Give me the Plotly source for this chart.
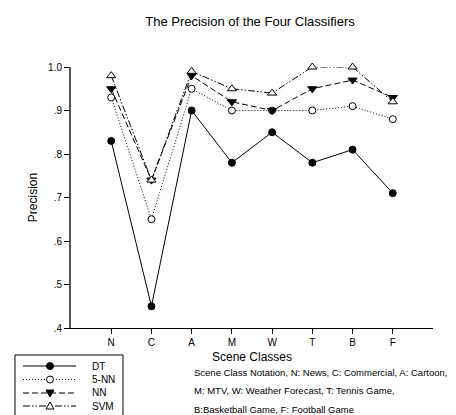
import plotly.graph_objects as go

categories = ["N", "C", "A", "M", "W", "T", "B", "F"]
series_names = ["DT", "5-NN", "NN", "SVM"]
dt = [0.83, 0.45, 0.90, 0.78, 0.85, 0.78, 0.81, 0.71]
knn5 = [0.93, 0.65, 0.95, 0.90, 0.90, 0.90, 0.91, 0.88]
nn = [0.95, 0.74, 0.98, 0.92, 0.90, 0.95, 0.97, 0.93]
svm = [0.98, 0.74, 0.99, 0.95, 0.94, 1.00, 1.00, 0.92]
y_tickvals = [0.4, 0.5, 0.6, 0.7, 0.8, 0.9, 1.0]
y_ticktext = [".4", ".5", ".6", ".7", ".8", ".9", "1.0"]
notes = [
    "Scene Class Notation, N: News, C: Commercial, A: Cartoon,",
    "M: MTV, W: Weather Forecast, T: Tennis Game,",
    "B:Basketball Game, F: Football Game",
]

FONT = "Arial, Liberation Sans, sans-serif"
xs = list(range(len(categories)))

# plot area in pixels
L, R, T, B = 63, 425, 59, 320
W, H = 456, 415


def px(x):
    return (x - L) / (R - L)


def py(y):
    return (B - y) / (B - T)


styles = [
    dict(dash="solid", shape="circle", fill="black"),
    dict(dash="1px,2px", shape="circle", fill="white"),
    dict(dash="6px,3px", shape="tri-down", fill="black"),
    dict(dash="7px,2px,1.5px,2px,1.5px,2px", shape="tri-up", fill="white"),
]
values = [dt, knn5, nn, svm]
symbols = {"circle": "circle", "tri-down": "triangle-down", "tri-up": "triangle-up"}

fig = go.Figure()
for name, vals, st in zip(series_names, values, styles):
    fig.add_trace(go.Scatter(
        x=xs, y=vals, name=name, mode="lines+markers", showlegend=False,
        line=dict(color="black", width=1, dash=st["dash"]),
        marker=dict(symbol=symbols[st["shape"]],
                    size=7 if st["shape"] == "circle" else 8,
                    color=st["fill"], line=dict(width=1, color="black"))))

# custom legend (box, sample lines, glyphs, labels)
shapes = [dict(type="rect", xref="paper", yref="paper",
               x0=px(7), x1=px(115), y0=py(347), y1=py(410),
               line=dict(color="black", width=1), fillcolor="white", layer="above")]
annotations = []
rows = [358, 371.5, 385, 398]
for name, st, ry in zip(series_names, styles, rows):
    shapes.append(dict(type="line", xref="paper", yref="paper",
                       x0=px(15), x1=px(68), y0=py(ry), y1=py(ry),
                       line=dict(color="black", width=1, dash=st["dash"]), layer="above"))
    common = dict(xref="paper", yref="paper", xsizemode="pixel", ysizemode="pixel",
                  xanchor=px(42), yanchor=py(ry), layer="above",
                  line=dict(color="black", width=1), fillcolor=st["fill"])
    if st["shape"] == "circle":
        shapes.append(dict(type="circle", x0=-3.5, x1=3.5, y0=-3.5, y1=3.5, **common))
    elif st["shape"] == "tri-down":
        shapes.append(dict(type="path", path="M-4,3 L4,3 L0,-4 Z", **common))
    else:
        shapes.append(dict(type="path", path="M-4,-3 L4,-3 L0,4 Z", **common))
    annotations.append(dict(text=name, xref="paper", yref="paper", x=px(82), y=py(ry),
                            xanchor="left", yanchor="middle", showarrow=False,
                            font=dict(size=10, family=FONT, color="black")))

for i, t in enumerate(notes):
    annotations.append(dict(text=t, xref="paper", yref="paper",
                            x=px(184), y=py(364 + 18.5 * i),
                            xanchor="left", yanchor="middle", showarrow=False,
                            font=dict(size=9.5, family=FONT, color="black")))

fig.update_layout(
    width=W, height=H,
    margin=dict(l=L, r=W - R, t=T, b=H - B, autoexpand=False),
    paper_bgcolor="white", plot_bgcolor="white",
    title=dict(text="The Precision of the Four Classifiers", x=242 / W, xanchor="center",
               y=1 - 13 / H, yanchor="middle",
               font=dict(size=13, family=FONT, color="black")),
    font=dict(family=FONT, color="black"),
    showlegend=False,
    shapes=shapes,
    annotations=annotations,
    xaxis=dict(range=[-1, 8], tickvals=xs, ticktext=categories,
               showgrid=False, zeroline=False, showline=True, linecolor="black",
               linewidth=1, ticks="outside", ticklen=5, tickcolor="black",
               tickfont=dict(size=10, family=FONT),
               title=dict(text="Scene Classes", font=dict(size=12, family=FONT), standoff=5)),
    yaxis=dict(range=[0.4, 1.0], tickvals=y_tickvals, ticktext=y_ticktext,
               showgrid=False, zeroline=False, showline=True, linecolor="#555555",
               linewidth=2, ticks="outside", ticklen=5, tickcolor="black",
               tickfont=dict(size=10, family=FONT),
               title=dict(text="Precision", font=dict(size=12, family=FONT), standoff=8)),
)
fig.update_traces(cliponaxis=False)

fig.write_html("out.html")
